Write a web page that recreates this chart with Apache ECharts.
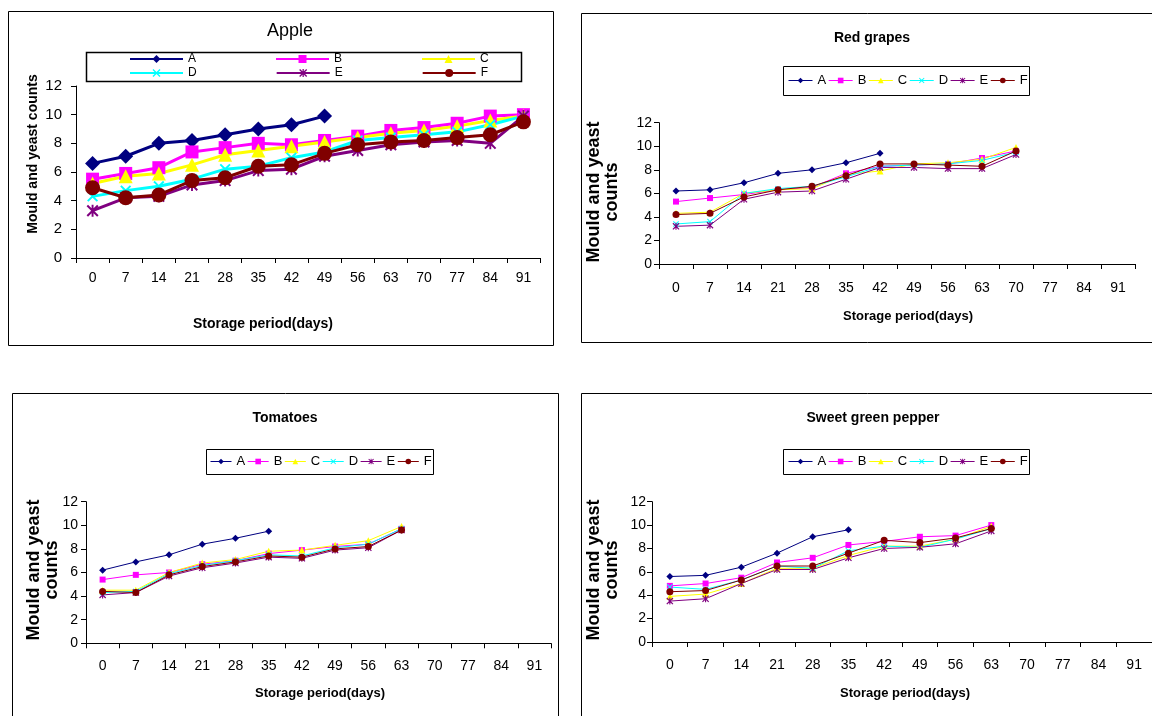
<!DOCTYPE html>
<html>
<head>
<meta charset="utf-8">
<script src="https://cdn.jsdelivr.net/npm/echarts@6/dist/echarts.min.js"></script>
<style>
  html, body { margin: 0; padding: 0; background: #fff; }
  #chart { width: 1152px; height: 716px; }
</style>
</head>
<body>
<div id="chart"></div>
<script>
// Storage days on the category axis
const days = ['0', '7', '14', '21', '28', '35', '42', '49', '56', '63', '70', '77', '84', '91'];
const treatments = ['A', 'B', 'C', 'D', 'E', 'F'];
const yTicks = [0, 2, 4, 6, 8, 10, 12];

// Apple
const appleA = [6.6, 7.1, 8.0, 8.2, 8.6, 9.0, 9.3, 9.9];
const appleB = [5.5, 5.9, 6.3, 7.4, 7.7, 8.0, 7.9, 8.2, 8.5, 8.9, 9.1, 9.4, 9.9, 10.0];
const appleC = [5.2, 5.7, 5.9, 6.5, 7.2, 7.5, 7.8, 8.1, 8.4, 8.7, 8.9, 9.2, 9.6, 9.9];
const appleD = [4.3, 4.7, 5.0, 5.5, 6.2, 6.4, 7.0, 7.4, 8.2, 8.4, 8.6, 8.8, 9.3, 9.9];
const appleE = [3.3, 4.2, 4.3, 5.1, 5.4, 6.1, 6.2, 7.1, 7.5, 7.9, 8.1, 8.2, 8.0, 9.9];
const appleF = [4.9, 4.2, 4.4, 5.4, 5.6, 6.4, 6.5, 7.3, 7.9, 8.1, 8.2, 8.4, 8.6, 9.5];

// Red grapes
const grapesA = [6.2, 6.3, 6.9, 7.7, 8.0, 8.6, 9.4];
const grapesB = [5.3, 5.6, 5.9, 6.3, 6.5, 7.7, 8.3, 8.4, 8.5, 9.0, 9.6];
const grapesC = [4.3, 4.4, 6.0, 6.3, 6.4, 7.6, 7.9, 8.5, 8.6, 8.9, 9.9];
const grapesD = [3.4, 3.6, 6.0, 6.4, 6.6, 7.4, 8.3, 8.4, 8.5, 8.8, 9.5];
const grapesE = [3.2, 3.3, 5.5, 6.1, 6.2, 7.2, 8.2, 8.2, 8.1, 8.1, 9.3];
const grapesF = [4.2, 4.3, 5.7, 6.3, 6.6, 7.5, 8.5, 8.5, 8.4, 8.3, 9.6];

// Tomatoes
const tomatoA = [6.2, 6.9, 7.5, 8.4, 8.9, 9.5];
const tomatoB = [5.4, 5.8, 6.0, 6.7, 7.0, 7.6, 7.9, 8.2, 8.4, 9.7];
const tomatoC = [4.5, 4.5, 6.0, 6.8, 7.1, 7.8, 7.9, 8.3, 8.7, 9.9];
const tomatoD = [4.3, 4.4, 5.9, 6.6, 7.0, 7.5, 7.4, 8.1, 8.4, 9.7];
const tomatoE = [4.1, 4.3, 5.7, 6.4, 6.8, 7.3, 7.2, 7.9, 8.1, 9.6];
const tomatoF = [4.4, 4.3, 5.8, 6.5, 6.9, 7.4, 7.3, 8.0, 8.2, 9.6];

// Sweet green pepper
const pepperA = [5.6, 5.7, 6.4, 7.6, 9.0, 9.6];
const pepperB = [4.8, 5.0, 5.5, 6.8, 7.2, 8.3, 8.6, 9.0, 9.1, 10.0];
const pepperC = [3.9, 4.1, 5.0, 6.3, 6.3, 7.4, 8.2, 8.2, 8.8, 9.9];
const pepperD = [4.7, 4.5, 5.3, 6.5, 6.3, 7.8, 8.2, 8.1, 8.8, 9.7];
const pepperE = [3.5, 3.7, 5.0, 6.2, 6.2, 7.2, 8.0, 8.1, 8.4, 9.5];
const pepperF = [4.3, 4.4, 5.3, 6.5, 6.5, 7.6, 8.7, 8.5, 8.9, 9.7];

const panelTitles = ['Apple', 'Red grapes', 'Tomatoes', 'Sweet green pepper'];
const yName = 'Mould and yeast counts';
const yNameWrapped = 'Mould and yeast\ncounts';
const xName = 'Storage period(days)';

// ---- styling ----
const colors = ['#000080', '#FF00FF', '#FFFF00', '#00FFFF', '#800080', '#800000'];
const crossPath = 'path://M0,12 L12,0 L50,38 L88,0 L100,12 L62,50 L100,88 L88,100 L50,62 L12,100 L0,88 L38,50 Z';
const starPath = crossPath + ' M42,0 L58,0 L58,100 L42,100 Z';
const symbols = ['diamond', 'rect', 'triangle', crossPath, starPath, 'circle'];
const bigSizes = [15, 13, 14, 11, 12, 15];
const smallSizes = [7, 6, 7, 6, 7, 7];

const ARIAL = "'Liberation Sans', Arial, sans-serif";
const NARROW = "'Liberation Sans Narrow', 'Arial Narrow', 'Liberation Sans', Arial, sans-serif";

const panels = [
  { series: [appleA, appleB, appleC, appleD, appleE, appleF], big: true,
    grid: { left: 76, top: 86, width: 464, height: 172 },
    xFont: { fontFamily: ARIAL, fontSize: 14, margin: 13 },
    yFont: { fontFamily: ARIAL, fontSize: 15, margin: 14 } },
  { series: [grapesA, grapesB, grapesC, grapesD, grapesE, grapesF], big: false,
    grid: { left: 659, top: 122.7, width: 476, height: 141.3 },
    xFont: { fontFamily: NARROW, fontSize: 14, margin: 17 },
    yFont: { fontFamily: NARROW, fontSize: 14, margin: 7 } },
  { series: [tomatoA, tomatoB, tomatoC, tomatoD, tomatoE, tomatoF], big: false,
    grid: { left: 86, top: 501.7, width: 465, height: 141.6 },
    xFont: { fontFamily: NARROW, fontSize: 14, margin: 16 },
    yFont: { fontFamily: NARROW, fontSize: 14, margin: 8 } },
  { series: [pepperA, pepperB, pepperC, pepperD, pepperE, pepperF], big: false,
    grid: { left: 652, top: 501.7, width: 504, height: 140.3 },
    xFont: { fontFamily: NARROW, fontSize: 14, margin: 16 },
    yFont: { fontFamily: NARROW, fontSize: 14, margin: 6 } }
];

const grids = [], xAxes = [], yAxes = [], series = [];
panels.forEach((p, i) => {
  grids.push(p.grid);
  xAxes.push({
    type: 'category', gridIndex: i, data: days, boundaryGap: true,
    axisLine: { lineStyle: { color: '#000', width: 1 } },
    axisTick: { show: true, length: 5, lineStyle: { color: '#000' } },
    axisLabel: Object.assign({ interval: 0, color: '#000' }, p.xFont),
    splitLine: { show: false }
  });
  yAxes.push({
    type: 'value', gridIndex: i, min: yTicks[0], max: yTicks[yTicks.length - 1],
    interval: yTicks[1] - yTicks[0],
    axisLine: { show: true, lineStyle: { color: '#000', width: 1 } },
    axisTick: { show: true, length: 5, lineStyle: { color: '#000' } },
    axisLabel: Object.assign({ color: '#000' }, p.yFont),
    splitLine: { show: false }
  });
  p.series.forEach((vals, k) => {
    series.push({
      name: treatments[k], type: 'line', xAxisIndex: i, yAxisIndex: i,
      data: vals, symbol: symbols[k],
      symbolSize: p.big ? bigSizes[k] : smallSizes[k],
      showSymbol: true, showAllSymbol: true,
      lineStyle: { color: colors[k], width: p.big ? 3 : 1 },
      itemStyle: { color: colors[k] },
      emphasis: { disabled: true },
      animation: false
    });
  });
});

function legendRow(names, left, top, opts) {
  return Object.assign({
    data: names, left: left, top: top, orient: 'horizontal', padding: 0,
    selectedMode: false
  }, opts);
}
const bigLegend = {
  itemWidth: 53, itemHeight: 10, itemGap: 79,
  textStyle: { fontFamily: ARIAL, fontSize: 12, color: '#000' }
};
const smallLegend = {
  itemWidth: 24, itemHeight: 7, itemGap: 2,
  lineStyle: { width: 1 },
  textStyle: { fontFamily: NARROW, fontSize: 13, color: '#000' }
};
const legends = [
  legendRow(['A', 'B', 'C'], 129, 53, bigLegend),
  legendRow(['D', 'E', 'F'], 129, 67, bigLegend),
  legendRow(treatments, 788, 74, smallLegend),
  legendRow(treatments, 210, 455, Object.assign({}, smallLegend, { itemWidth: 21, itemGap: 2 })),
  legendRow(treatments, 788, 455, smallLegend)
];

function box(x, y, w, h, lw) {
  return { type: 'rect', shape: { x: x, y: y, width: w, height: h },
    style: { fill: null, stroke: '#000', lineWidth: lw || 1 }, silent: true };
}
function label(text, x, y, font, rot, lh) {
  return { type: 'text', x: x, y: y, rotation: rot || 0, silent: true,
    style: { text: text, font: font, fill: '#000', align: 'center',
      verticalAlign: 'middle', lineHeight: lh || undefined } };
}

const graphics = [
  // panel frames
  box(8.5, 11.5, 545, 334),
  box(581.5, 13.5, 600, 329),
  box(12.5, 393.5, 546, 340),
  box(581.5, 393.5, 600, 340),
  // legend frames
  box(86.5, 52.5, 435, 29, 1.5),
  box(783.5, 66.5, 246, 29),
  box(206.5, 449.5, 227, 25),
  box(783.5, 449.5, 246, 25),
  // titles
  label(panelTitles[0], 290, 31, '18px ' + ARIAL),
  label(panelTitles[1], 872, 38, 'bold 14px ' + ARIAL),
  label(panelTitles[2], 285, 418, 'bold 14px ' + ARIAL),
  label(panelTitles[3], 873, 418, 'bold 14px ' + ARIAL),
  // axis names
  label(yName, 33, 154, 'bold 14px ' + ARIAL, Math.PI / 2),
  label(yNameWrapped, 603, 192, 'bold 18px ' + ARIAL, Math.PI / 2, 18),
  label(yNameWrapped, 43, 570, 'bold 18px ' + ARIAL, Math.PI / 2, 18),
  label(yNameWrapped, 603, 570, 'bold 18px ' + ARIAL, Math.PI / 2, 18),
  label(xName, 263, 324, 'bold 14px ' + ARIAL),
  label(xName, 908, 316, 'bold 13px ' + NARROW),
  label(xName, 320, 693, 'bold 13px ' + NARROW),
  label(xName, 905, 693, 'bold 13px ' + NARROW)
];

const chart = echarts.init(document.getElementById('chart'), null, { renderer: 'canvas' });
chart.setOption({
  backgroundColor: '#fff',
  animation: false,
  grid: grids,
  xAxis: xAxes,
  yAxis: yAxes,
  legend: legends,
  series: series,
  graphic: { elements: graphics }
});
</script>
</body>
</html>
